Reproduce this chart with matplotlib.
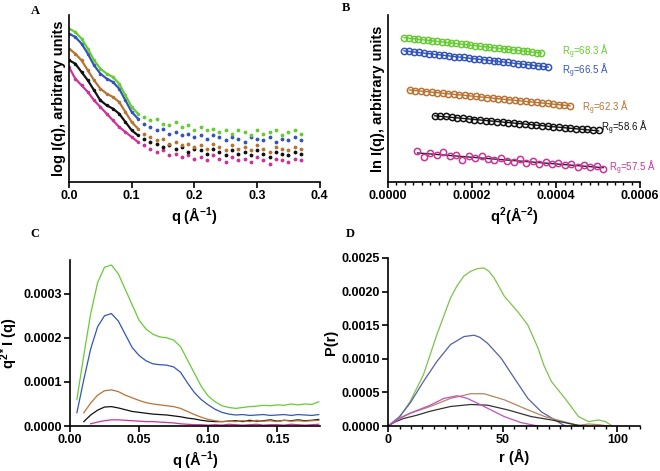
import numpy as np
import matplotlib
matplotlib.use('Agg')
import matplotlib.pyplot as plt
from matplotlib.ticker import MultipleLocator

plt.rcParams['font.family'] = ['Liberation Sans', 'DejaVu Sans']
plt.rcParams['font.weight'] = 'bold'
plt.rcParams['font.size'] = 9
plt.rcParams['axes.labelsize'] = 10.5
plt.rcParams['axes.labelweight'] = 'bold'
plt.rcParams['mathtext.default'] = 'regular'
plt.rcParams['axes.linewidth'] = 1.2

# series colours (green, blue, brown, black, magenta)
cols = ['#66cc33', '#3355bb', '#b87333', '#111111', '#cc3399']
cols_d = ['#80c050', '#5560a8', '#b08860', '#333333', '#c050c0']

# ---- A : log I(q), arbitrary units
q_a = np.round(np.arange(0.0, 0.371, 0.01), 3)
logI_green = [92, 90, 86, 80, 73, 68, 65, 63, 59, 52, 45, 41, 39, 37, 38, 35, 34, 36, 33, 34,
              31, 33, 31, 32, 30, 31, 29, 31, 30, 28, 31, 29, 30, 31, 28, 30, 31, 29]
logI_blue = [89, 87, 83, 77, 70, 65, 62, 60, 56, 49, 42, 38, 35, 33, 31, 32, 29, 30, 28, 29,
             27, 28, 26, 28, 27, 25, 27, 26, 24, 27, 26, 25, 27, 24, 26, 25, 27, 25]
logI_brown = [80, 77, 73, 67, 61, 56, 53, 51, 48, 42, 36, 32, 29, 27, 25, 26, 23, 24, 22, 23,
              21, 22, 20, 23, 21, 19, 22, 20, 21, 19, 22, 20, 18, 21, 20, 19, 21, 20]
logI_black = [73, 71, 66, 61, 55, 49, 46, 44, 41, 36, 31, 28, 26, 24, 23, 21, 22, 20, 21, 18,
              20, 19, 17, 20, 18, 16, 19, 17, 18, 16, 19, 17, 15, 18, 17, 16, 18, 17]
logI_mag = [69, 62, 58, 54, 49, 45, 41, 37, 33, 30, 27, 24, 22, 20, 18, 19, 16, 17, 15, 16,
            14, 15, 13, 16, 14, 12, 15, 13, 14, 12, 15, 13, 11, 14, 13, 12, 14, 13]

# ---- B : Guinier plots
q2_ranges = [(0.000038, 0.000365), (0.000038, 0.000381), (0.000051, 0.000433),
             (0.000111, 0.000501), (0.000070, 0.000512)]
lnI_green = [86.5, 86.3, 85.9, 85.6, 85.3, 85.0, 84.6, 84.4, 84.0, 83.7, 83.4, 83.1, 82.7, 82.5, 82.1,
             81.8, 81.5, 81.2, 80.8, 80.6, 80.2, 79.9, 79.6, 79.3, 78.9, 78.7, 78.3, 78.0, 77.6, 77.3]
lnI_blue = [78.6, 78.4, 77.9, 77.7, 77.3, 77.0, 76.6, 76.4, 75.9, 75.7, 75.2, 75.0, 74.7, 74.2, 74.0,
            73.6, 73.3, 72.9, 72.6, 72.3, 71.9, 71.7, 71.2, 71.0, 70.6, 70.3, 69.9, 69.6, 69.3, 69.0]
lnI_brown = [55.2, 54.8, 54.6, 54.1, 54.0, 53.5, 53.3, 52.8, 52.7, 52.2, 52.0, 51.6, 51.3, 51.0, 50.6,
             50.4, 50.0, 49.6, 49.4, 49.0, 48.7, 48.3, 48.0, 47.7, 47.3, 47.1, 46.6, 46.4, 46.0, 45.6]
lnI_black = [39.8, 39.4, 39.3, 38.7, 38.6, 38.1, 38.0, 37.4, 37.3, 36.8, 36.6, 36.2, 35.9, 35.6, 35.2,
             35.0, 34.6, 34.3, 34.0, 33.6, 33.4, 33.0, 32.8, 32.4, 32.2, 31.9, 31.6, 31.5, 31.2, 31.0]
lnI_mag = [18.5, 15.0, 17.2, 16.0, 17.8, 15.6, 16.4, 13.2, 15.8, 14.2, 15.6, 14.0, 13.1, 14.4, 12.8,
           12.2, 13.6, 11.5, 12.4, 11.0, 12.0, 10.6, 11.2, 10.0, 10.8, 9.2, 10.0, 8.8, 9.4, 8.0]
rg_text = ['68.3', '66.5', '62.3', '58.6', '57.5']
rg_pos = [(0.000415, 78), (0.000415, 66.5), (0.000462, 44.3), (0.000506, 32.3), (0.000526, 8.4)]

# ---- C : Kratky, q^2*I(q)  (units of 1e-4)
q_c = np.round(np.arange(0.005, 0.1801, 0.005), 3)
kr_green = [0.60, 1.60, 2.55, 3.25, 3.60, 3.65, 3.45, 3.10, 2.75, 2.40, 2.20, 2.08, 2.02, 2.00, 1.95,
            1.80, 1.50, 1.20, 0.90, 0.68, 0.55, 0.46, 0.42, 0.40, 0.42, 0.44, 0.45, 0.47, 0.46, 0.48,
            0.47, 0.50, 0.48, 0.50, 0.49, 0.55]
kr_blue = [0.30, 1.05, 1.75, 2.25, 2.50, 2.55, 2.38, 2.08, 1.78, 1.60, 1.48, 1.41, 1.39, 1.38, 1.34,
           1.22, 0.98, 0.76, 0.60, 0.48, 0.38, 0.31, 0.27, 0.25, 0.26, 0.24, 0.25, 0.26, 0.24, 0.25,
           0.26, 0.24, 0.26, 0.25, 0.24, 0.26]
kr_brown = [np.nan, 0.30, 0.52, 0.70, 0.80, 0.82, 0.78, 0.70, 0.64, 0.58, 0.53, 0.50, 0.48, 0.46, 0.44,
            0.40, 0.33, 0.26, 0.20, 0.15, 0.12, 0.10, 0.11, 0.10, 0.12, 0.10, 0.13, 0.11, 0.12, 0.10,
            0.13, 0.11, 0.12, 0.11, 0.12, 0.13]
kr_black = [np.nan, 0.10, 0.25, 0.36, 0.43, 0.44, 0.41, 0.37, 0.33, 0.31, 0.29, 0.27, 0.26, 0.25, 0.23,
            0.21, 0.18, 0.16, 0.13, 0.11, 0.10, 0.10, 0.11, 0.12, 0.10, 0.13, 0.11, 0.12, 0.14, 0.11,
            0.13, 0.12, 0.14, 0.12, 0.13, 0.15]
kr_mag = [np.nan, np.nan, 0.05, 0.09, 0.12, 0.14, 0.14, 0.13, 0.12, 0.11, 0.10, 0.10, 0.09, 0.08, 0.07,
          0.05, 0.04, 0.03, 0.03, 0.02, 0.03, 0.02, 0.04, 0.03, 0.02, 0.03, 0.04, 0.02, 0.03, 0.03,
          0.02, 0.04, 0.03, 0.02, 0.03, 0.04]

# ---- D : P(r)  (units of 1e-3)
r_green = [0, 5, 9.6, 15.4, 21.3, 27.2, 30, 33.1, 36, 39, 41.9, 44, 46.3, 50.7, 53.5, 56.6, 61, 65.4,
           68, 71.3, 77.2, 83.1, 87.5, 90, 91.9, 94.9, 97.8]
p_green = [0, 0.13, 0.363, 0.76, 1.36, 1.9, 2.08, 2.23, 2.3, 2.34, 2.35, 2.3, 2.2, 1.93, 1.82, 1.7,
           1.5, 1.16, 0.9, 0.66, 0.41, 0.14, 0.065, 0.08, 0.09, 0.065, 0]
r_blue = [0, 5, 9.6, 15.4, 21.3, 27.2, 33.1, 37.5, 40, 43.4, 49.3, 55.1, 61, 66.9, 72.8, 77.2]
p_blue = [0, 0.14, 0.34, 0.66, 0.96, 1.21, 1.33, 1.35, 1.32, 1.23, 1.01, 0.71, 0.41, 0.21, 0.09, 0]
r_brown = [0, 5, 9.6, 18.4, 27.2, 36, 41.9, 50.7, 59.6, 68.4, 77.2, 83, 87.5, 92, 96]
p_brown = [0, 0.12, 0.19, 0.29, 0.41, 0.48, 0.48, 0.39, 0.26, 0.14, 0.06, 0.01, 0.03, 0.02, 0]
r_black = [0, 3, 6.6, 12.5, 18.4, 27.2, 36, 43.4, 52.2, 62.5, 71.3, 80, 84.6]
p_black = [0, 0.06, 0.11, 0.16, 0.22, 0.29, 0.32, 0.31, 0.24, 0.14, 0.09, 0.03, 0]
r_mag = [0, 5, 9.6, 18.4, 24.3, 30.1, 34.6, 41.9, 50.7, 58.1, 65.4]
p_mag = [0, 0.11, 0.19, 0.31, 0.41, 0.45, 0.41, 0.29, 0.14, 0.05, 0]


def style(ax):
    for s in ['top', 'right']:
        ax.spines[s].set_visible(False)
    ax.tick_params(direction='out', length=4, width=1.2, which='major', pad=2)
    ax.tick_params(direction='out', length=2.5, width=1.0, which='minor')


fig = plt.figure(figsize=(6.6, 4.71), dpi=100)
axA = fig.add_axes([0.1045, 0.6136, 0.380, 0.354])
axB = fig.add_axes([0.588, 0.6136, 0.382, 0.354])
axC = fig.add_axes([0.106, 0.0955, 0.379, 0.353])
axD = fig.add_axes([0.588, 0.0955, 0.382, 0.357])

# A : smooth low-q part drawn as a line, noisy tail as dots
head = q_a <= 0.11
for y, c in zip([logI_mag, logI_black, logI_brown, logI_blue, logI_green], cols[::-1]):
    y = np.array(y, dtype=float)
    axA.plot(q_a[head], y[head], '-', color=c, lw=1.6, marker='.', ms=3)
    axA.plot(q_a[~head], y[~head], '.', color=c, ms=3.5)
axA.set_xlim(0, 0.4)
axA.set_ylim(0, 100)
axA.set_yticks([])
axA.set_xticks([0.0, 0.1, 0.2, 0.3, 0.4])
axA.set_xlabel('q (Å$^{-1}$)', labelpad=2)
axA.set_ylabel('log I(q), arbitrary units', labelpad=2)
style(axA)

# B
for (x0, x1), y, c, rg, (tx, ty) in zip(q2_ranges, [lnI_green, lnI_blue, lnI_brown, lnI_black, lnI_mag],
                                         cols, rg_text, rg_pos):
    x = np.linspace(x0, x1, len(y))
    fit = np.polyfit(x, y, 1)
    lc = '#222222' if c == cols[4] else c
    axB.plot(x, np.polyval(fit, x), '-', color=lc, lw=1.0)
    axB.plot(x, y, 'o', mfc='none', mec=c, ms=4.5, mew=1.1)
    axB.text(tx, ty, 'R$_g$=' + rg + ' Å', color=c, fontsize=7, fontweight='normal',
             va='center', ha='left')
axB.set_xlim(0, 0.0006)
axB.set_ylim(0, 100)
axB.set_yticks([])
axB.set_xticks([0.0, 0.0002, 0.0004, 0.0006])
axB.set_xticklabels(['0.0000', '0.0002', '0.0004', '0.0006'])
axB.xaxis.set_minor_locator(MultipleLocator(0.00002))
axB.set_xlabel('q$^2$(Å$^{-2}$)', labelpad=2)
axB.set_ylabel('ln I(q), arbitrary units', labelpad=2)
style(axB)

# C
for y, c in zip([kr_mag, kr_black, kr_brown, kr_blue, kr_green], cols[::-1]):
    axC.plot(q_c, np.array(y) * 1e-4, '-', color=c, lw=0.9)
axC.set_xlim(0, 0.181)
axC.set_ylim(0, 0.000377)
axC.set_xticks([0.0, 0.05, 0.10, 0.15])
axC.set_xticklabels(['0.00', '0.05', '0.10', '0.15'])
axC.set_yticks([0, 0.0001, 0.0002, 0.0003])
axC.set_yticklabels(['0.0000', '0.0001', '0.0002', '0.0003'])
axC.set_xlabel('q (Å$^{-1}$)', labelpad=2)
axC.set_ylabel('q$^{2*}$I (q)', labelpad=2)
style(axC)

# D
for r, p, c in zip([r_green, r_blue, r_brown, r_black, r_mag],
                   [p_green, p_blue, p_brown, p_black, p_mag], cols_d):
    axD.plot(r, np.array(p) * 1e-3, '-', color=c, lw=0.9)
axD.set_xlim(0, 110)
axD.set_ylim(0, 0.0025)
axD.set_xticks([0, 50, 100])
axD.xaxis.set_minor_locator(MultipleLocator(5))
axD.set_yticks([0, 0.0005, 0.0010, 0.0015, 0.0020, 0.0025])
axD.set_yticklabels(['0.0000', '0.0005', '0.0010', '0.0015', '0.0020', '0.0025'])
axD.set_xlabel('r (Å)', labelpad=2)
axD.set_ylabel('P(r)', labelpad=2)
style(axD)

# panel letters
for lab, x, y in [('A', 0.053, 0.99), ('B', 0.525, 0.995), ('C', 0.053, 0.515), ('D', 0.53, 0.515)]:
    fig.text(x, y, lab, family='Liberation Serif', fontweight='bold', fontsize=9, va='top', ha='center')

fig.savefig('out.png', dpi=100)
